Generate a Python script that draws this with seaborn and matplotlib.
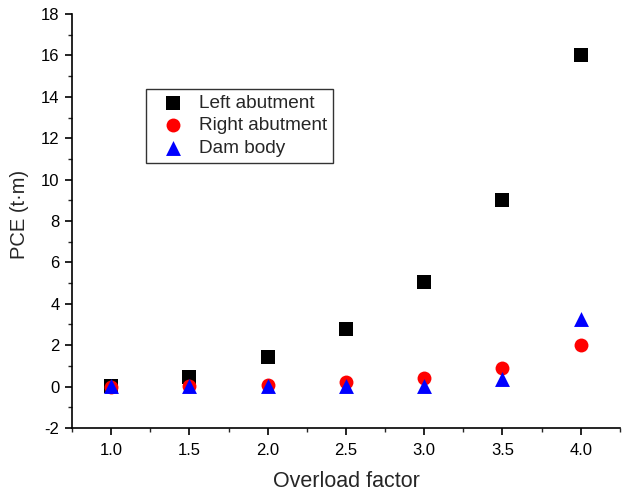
import numpy as np
import pandas as pd
import matplotlib
matplotlib.use("Agg")
import matplotlib.pyplot as plt
import seaborn as sns
from matplotlib.ticker import MultipleLocator

overload = [1.0, 1.5, 2.0, 2.5, 3.0, 3.5, 4.0]
left_abutment = [0.05, 0.48, 1.42, 2.8, 5.05, 9.0, 16.0]
right_abutment = [0.0, 0.02, 0.1, 0.2, 0.4, 0.9, 2.02]
dam_body = [0.05, 0.05, 0.05, 0.05, 0.05, 0.35, 3.25]
series_names = ["Left abutment", "Right abutment", "Dam body"]
x_tick_labels = ["1.0", "1.5", "2.0", "2.5", "3.0", "3.5", "4.0"]

df = pd.DataFrame({
    "Overload factor": overload * 3,
    "PCE": left_abutment + right_abutment + dam_body,
    "Series": [series_names[0]] * 7 + [series_names[1]] * 7 + [series_names[2]] * 7,
})

sns.set_style("ticks")
plt.rcParams['font.family'] = ['Liberation Sans', 'DejaVu Sans']
plt.rcParams['axes.unicode_minus'] = False

fig = plt.figure(figsize=(6.23, 4.95), dpi=100)
ax = fig.add_axes([0.1156, 0.1354, 0.8794, 0.8363])

palette = {"Left abutment": "black", "Right abutment": "red", "Dam body": "blue"}
markers = {"Left abutment": "s", "Right abutment": "o", "Dam body": "^"}
sizes_map = {"Left abutment": 90, "Right abutment": 100, "Dam body": 115}

for name in series_names:
    sub = df[df["Series"] == name]
    sns.scatterplot(data=sub, x="Overload factor", y="PCE", color=palette[name],
                    marker=markers[name], s=sizes_map[name], linewidth=0,
                    label=name, ax=ax, zorder=3)

ax.set_xlim(0.75, 4.25)
ax.set_ylim(-2, 18)
ax.xaxis.set_minor_locator(MultipleLocator(0.25))
ax.yaxis.set_major_locator(MultipleLocator(2))
ax.yaxis.set_minor_locator(MultipleLocator(1))
ax.set_xticks(overload)
ax.set_xticklabels(x_tick_labels)

ax.tick_params(which='major', direction='out', length=5, width=1.2, labelsize=12, colors='black')
ax.tick_params(axis='x', which='major', pad=6)
ax.tick_params(axis='y', which='major', pad=4)
ax.tick_params(which='minor', direction='out', length=3, width=1.0)
for s in ["top", "right"]:
    ax.spines[s].set_visible(False)
for s in ["left", "bottom"]:
    ax.spines[s].set_linewidth(1.2)
    ax.spines[s].set_color("black")

ax.set_xlabel("Overload factor", fontsize=15.5, labelpad=9)
ax.set_ylabel("PCE (t·m)", fontsize=14.5)
ax.yaxis.set_label_coords(-0.078, 0.515)

leg = ax.legend(loc="upper left", bbox_to_anchor=(0.135, 0.819), frameon=True,
                fancybox=False, edgecolor="black", fontsize=13.7,
                handletextpad=0.3, borderpad=0.3, labelspacing=0.27,
                handlelength=2.2, borderaxespad=0)
leg.get_frame().set_linewidth(1.0)

fig.savefig("out.png", dpi=100)
